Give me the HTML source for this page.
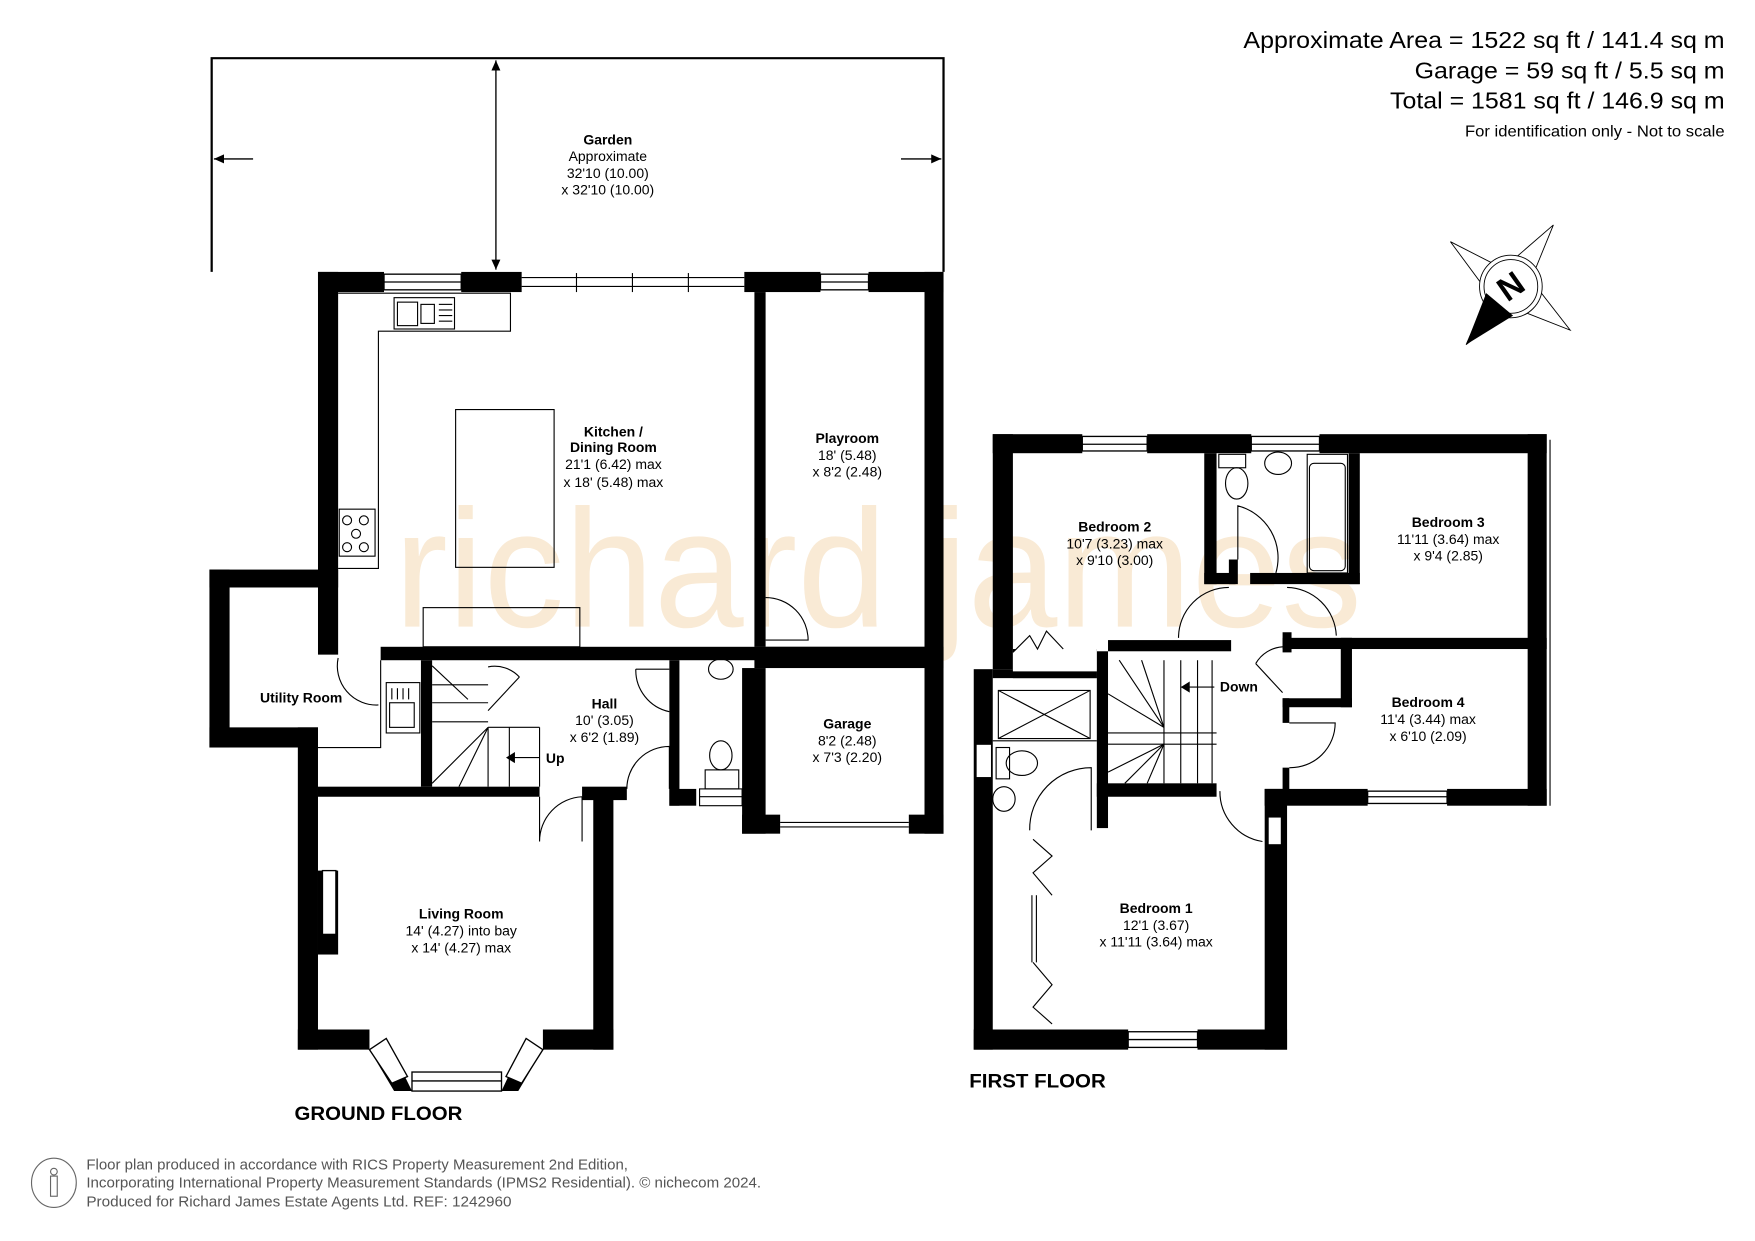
<!DOCTYPE html>
<html><head><meta charset="utf-8"><style>html,body{margin:0;padding:0;background:#fff}svg{display:block}</style></head><body>
<svg width="1755" height="1241" viewBox="0 0 1568 1109" xmlns="http://www.w3.org/2000/svg" font-family="Liberation Sans, Arial, sans-serif">
<rect width="1568" height="1109" fill="#fff"/>
<!-- watermark -->
<text x="352" y="560" font-size="150" fill="#f9ead5" textLength="865" lengthAdjust="spacingAndGlyphs" font-weight="normal">richard james</text>

<!-- garden -->
<g stroke="#000" stroke-width="2" fill="none">
<polyline points="189,243 189,52 843,52 843,243"/>
<line x1="443" y1="54" x2="443" y2="241" stroke-width="1.2"/>
<line x1="191" y1="142" x2="226" y2="142" stroke-width="1.2"/>
<line x1="805" y1="142" x2="841" y2="142" stroke-width="1.2"/>
</g>
<g fill="#000">
<polygon points="443,54 439,63 447,63"/><polygon points="443,241 439,232 447,232"/>
<polygon points="191,142 200,138 200,146"/><polygon points="841,142 832,138 832,146"/>
</g>

<!-- ground floor walls -->
<g fill="#000">
<rect x="284" y="243" width="59" height="18"/>
<rect x="412" y="243" width="54" height="18"/>
<rect x="665" y="243" width="68" height="18"/>
<rect x="776" y="243" width="67" height="18"/>
<rect x="284" y="243" width="18" height="342"/>
<rect x="826" y="243" width="17" height="502"/>
<rect x="674" y="261" width="10" height="317"/>
<rect x="340" y="578" width="503" height="12"/>
<rect x="674" y="578" width="169" height="19"/>
<rect x="187" y="509" width="115" height="16"/>
<rect x="187" y="509" width="18" height="159"/>
<rect x="187" y="650" width="97" height="18"/>
<rect x="266" y="650" width="18" height="288"/>
<rect x="266" y="920" width="64" height="18"/>
<rect x="485" y="920" width="63" height="18"/>
<rect x="530" y="705" width="18" height="233"/>
<rect x="284" y="703" width="198" height="9"/>
<rect x="520" y="703" width="40" height="12"/>
<rect x="376" y="590" width="10" height="113"/>
<rect x="598" y="590" width="9" height="130"/>
<rect x="598" y="705" width="24" height="15"/>
<rect x="663" y="597" width="21" height="148"/>
<rect x="663" y="728" width="34" height="17"/>
<rect x="812" y="728" width="31" height="17"/>
<rect x="284" y="778" width="18" height="75" fill="#000"/>
<polygon points="330,938 345,928 368,975 352,975"/>
<polygon points="485,938 470,928 448,975 463,975"/>
</g>
<g stroke="#000" stroke-width="1.2" fill="#fff">
<rect x="343" y="245" width="69" height="14"/><line x1="343" y1="252" x2="412" y2="252"/>
<rect x="733" y="245" width="43" height="14"/><line x1="733" y1="252" x2="776" y2="252"/>
<rect x="288" y="778" width="12" height="57"/>
<rect x="368" y="958" width="80" height="17"/><line x1="368" y1="966" x2="448" y2="966"/>
<polygon points="330,938 345,928 364,962 350,968"/>
<polygon points="485,938 470,928 452,962 466,968"/>
</g>
<g stroke="#000" stroke-width="1" fill="none">
<line x1="466" y1="248" x2="665" y2="248"/><line x1="466" y1="256" x2="665" y2="256"/>
<line x1="515" y1="244" x2="515" y2="261"/><line x1="565" y1="244" x2="565" y2="261"/><line x1="615" y1="244" x2="615" y2="261"/>
<polyline points="302,262 456,262 456,296 338,296 338,508 302,508"/>
<rect x="352" y="266" width="54" height="28"/><rect x="355" y="270" width="18" height="21"/><rect x="376" y="272" width="12" height="17"/>
<line x1="392" y1="272" x2="404" y2="272"/><line x1="392" y1="277" x2="404" y2="277"/><line x1="392" y1="282" x2="404" y2="282"/><line x1="392" y1="287" x2="404" y2="287"/>
<rect x="303" y="455" width="32" height="42"/>
<circle cx="310" cy="465" r="4"/><circle cx="325" cy="465" r="4"/><circle cx="318" cy="477" r="4"/><circle cx="310" cy="489" r="4"/><circle cx="325" cy="489" r="4"/>
<rect x="407" y="366" width="88" height="141"/>
<rect x="378" y="543" width="140" height="35"/>
<path d="M684,572 L722,572 A38,38 0 0 0 684,534"/>
<path d="M302,588 A35,35 0 0 0 338,630"/>
<polyline points="284,668 340,668 340,590"/>
<rect x="345" y="610" width="30" height="45"/><rect x="348" y="628" width="22" height="22"/>
<line x1="350" y1="615" x2="350" y2="625"/><line x1="355" y1="615" x2="355" y2="625"/><line x1="360" y1="615" x2="360" y2="625"/><line x1="365" y1="615" x2="365" y2="625"/>
<line x1="386" y1="612" x2="436" y2="612"/><line x1="386" y1="628" x2="436" y2="628"/><line x1="386" y1="645" x2="436" y2="645"/>
<line x1="436" y1="650" x2="386" y2="700"/><line x1="436" y1="650" x2="410" y2="703"/>
<line x1="436" y1="650" x2="482" y2="650"/><line x1="436" y1="650" x2="436" y2="703"/><line x1="455" y1="650" x2="455" y2="703"/><line x1="482" y1="650" x2="482" y2="703"/>
<line x1="386" y1="595" x2="418" y2="625"/><line x1="436" y1="635" x2="464" y2="605"/>
<path d="M436,596 A30,30 0 0 1 464,605"/>
<line x1="455" y1="677" x2="482" y2="677"/>
<path d="M482,712 L482,752 M520,712 A40,40 0 0 0 482,752 M520,712 L520,752"/>
<path d="M560,705 A38,38 0 0 1 598,667 L598,705"/>
<path d="M568,598 L598,598 M568,598 A38,38 0 0 0 598,636"/>
<ellipse cx="644" cy="598" rx="11" ry="9"/>
<ellipse cx="644" cy="675" rx="10" ry="13"/><rect x="630" y="688" width="30" height="17"/>
<rect x="625" y="705" width="38" height="15"/><line x1="625" y1="712" x2="663" y2="712"/>
<line x1="697" y1="735" x2="812" y2="735"/><line x1="697" y1="739" x2="812" y2="739"/>
</g>
<polygon points="452,677 460,672 460,682" fill="#000"/>

<!-- first floor walls -->
<g fill="#000">
<rect x="887" y="388" width="80" height="17"/>
<rect x="1025" y="388" width="93" height="17"/>
<rect x="1179" y="388" width="203" height="17"/>
<rect x="887" y="388" width="18" height="210"/>
<rect x="870" y="598" width="17" height="340"/>
<rect x="870" y="920" width="138" height="18"/>
<rect x="1070" y="920" width="80" height="18"/>
<rect x="1130" y="705" width="20" height="233" fill="#000"/>
<rect x="1130" y="705" width="92" height="15"/>
<rect x="1293" y="705" width="89" height="15"/>
<rect x="1365" y="388" width="17" height="332"/>
<rect x="1076" y="405" width="11" height="117"/>
<rect x="1205" y="405" width="10" height="117"/>
<rect x="1076" y="512" width="28" height="10"/>
<rect x="1117" y="512" width="98" height="10"/>
<rect x="1098" y="500" width="8" height="22"/>
<rect x="1146" y="570" width="236" height="10"/>
<rect x="1198" y="570" width="10" height="62"/>
<rect x="1146" y="624" width="62" height="8"/>
<rect x="1146" y="565" width="8" height="18"/>
<rect x="1146" y="624" width="6" height="22"/>
<rect x="1146" y="686" width="6" height="20"/>
<rect x="990" y="572" width="110" height="10"/>
<rect x="905" y="580" width="75" height="26"/>
<rect x="887" y="598" width="93" height="8"/>
<rect x="980" y="582" width="10" height="158"/>
<rect x="980" y="700" width="107" height="12"/>
</g>
<g stroke="#000" stroke-width="1.2" fill="#fff">
<rect x="967" y="390" width="58" height="13"/><line x1="967" y1="397" x2="1025" y2="397"/>
<rect x="1118" y="390" width="61" height="13"/><line x1="1118" y1="397" x2="1179" y2="397"/>
<rect x="1222" y="707" width="71" height="11"/><line x1="1222" y1="712" x2="1293" y2="712"/>
<rect x="1008" y="922" width="62" height="14"/><line x1="1008" y1="929" x2="1070" y2="929"/>
<rect x="1133" y="730" width="12" height="25"/>
<rect x="872" y="665" width="14" height="30"/>
<polygon points="905,583 920,570 927,580 935,564 945,580 980,580 980,600 905,600" stroke="none"/>
</g>
<g stroke="#000" stroke-width="1" fill="none">
<line x1="1385" y1="393" x2="1385" y2="720"/><line x1="1133" y1="760" x2="1133" y2="915"/>
<rect x="1089" y="406" width="24" height="12"/><ellipse cx="1105" cy="432" rx="10" ry="14"/>
<ellipse cx="1142" cy="414" rx="12" ry="10"/>
<rect x="1168" y="406" width="36" height="106"/><rect x="1170" y="414" width="32" height="96" rx="4"/>
<path d="M1106,500 L1106,452 A48,48 0 0 1 1140,512"/>
<path d="M1053,570 A45,45 0 0 1 1098,525"/>
<path d="M1150,525 A45,45 0 0 1 1194,568"/>
<polyline points="905,583 920,568 927,580 935,564 950,580"/>
<path d="M1122,593 L1146,619 M1122,593 A30,30 0 0 1 1146,578"/>
<path d="M1152,646 L1193,646 A40,40 0 0 1 1152,686"/>
<line x1="990" y1="655" x2="1087" y2="655"/><line x1="990" y1="665" x2="1087" y2="665"/>
<line x1="1040" y1="590" x2="1040" y2="700"/><line x1="1055" y1="590" x2="1055" y2="700"/><line x1="1070" y1="590" x2="1070" y2="700"/><line x1="1083" y1="590" x2="1083" y2="700"/>
<line x1="1040" y1="650" x2="990" y2="620"/><line x1="1040" y1="650" x2="1000" y2="590"/><line x1="1040" y1="650" x2="1020" y2="590"/>
<line x1="1040" y1="665" x2="990" y2="690"/><line x1="1040" y1="665" x2="1005" y2="700"/><line x1="1040" y1="665" x2="1025" y2="700"/>
<line x1="1055" y1="614" x2="1085" y2="614"/>
<rect x="892" y="617" width="82" height="43"/><line x1="892" y1="617" x2="974" y2="660"/><line x1="892" y1="660" x2="974" y2="617"/>
<line x1="887" y1="662" x2="980" y2="662"/>
<ellipse cx="913" cy="682" rx="14" ry="11"/><rect x="890" y="668" width="12" height="28"/>
<ellipse cx="897" cy="714" rx="10" ry="11"/>
<path d="M975,742 L975,686 A55,55 0 0 0 920,742"/>
<path d="M1090,707 A45,45 0 0 0 1128,752"/>
<polyline points="923,750 940,765 923,780 940,800"/><polyline points="923,860 940,880 923,900 940,915"/>
<line x1="922" y1="800" x2="922" y2="860"/><line x1="926" y1="800" x2="926" y2="860"/>
</g>
<polygon points="1055,614 1063,609 1063,619" fill="#000"/>

<!-- compass -->
<g stroke="#000" stroke-width="0.8" fill="#fff">
<polygon points="1296,216 1343,240 1388,201 1368,250 1403,295 1352,275 1310,308 1330,262"/>
<circle cx="1350" cy="256" r="28"/><circle cx="1350" cy="256" r="24"/>
</g>
<polygon points="1310,308 1328,262 1352,282" fill="#000"/>
<text x="1350" y="266" font-size="30" font-weight="bold" text-anchor="middle" transform="rotate(-35 1350 256)">N</text>

<!-- labels -->
<g font-size="12.5" text-anchor="middle" fill="#000">
<text x="543" y="129" font-weight="bold">Garden</text><text x="543" y="144">Approximate</text><text x="543" y="159">32'10 (10.00)</text><text x="543" y="174">x 32'10 (10.00)</text>
<text x="548" y="390" font-weight="bold">Kitchen /</text><text x="548" y="404" font-weight="bold">Dining Room</text><text x="548" y="419">21'1 (6.42) max</text><text x="548" y="435">x 18' (5.48) max</text>
<text x="757" y="396" font-weight="bold">Playroom</text><text x="757" y="411">18' (5.48)</text><text x="757" y="426">x 8'2 (2.48)</text>
<text x="269" y="628" font-weight="bold">Utility Room</text>
<text x="540" y="633" font-weight="bold">Hall</text><text x="540" y="648">10' (3.05)</text><text x="540" y="663">x 6'2 (1.89)</text>
<text x="496" y="682" font-weight="bold">Up</text>
<text x="757" y="651" font-weight="bold">Garage</text><text x="757" y="666">8'2 (2.48)</text><text x="757" y="681">x 7'3 (2.20)</text>
<text x="412" y="821" font-weight="bold">Living Room</text><text x="412" y="836">14' (4.27) into bay</text><text x="412" y="851">x 14' (4.27) max</text>
<text x="996" y="475" font-weight="bold">Bedroom 2</text><text x="996" y="490">10'7 (3.23) max</text><text x="996" y="505">x 9'10 (3.00)</text>
<text x="1294" y="471" font-weight="bold">Bedroom 3</text><text x="1294" y="486">11'11 (3.64) max</text><text x="1294" y="501">x 9'4 (2.85)</text>
<text x="1107" y="618" font-weight="bold">Down</text>
<text x="1276" y="632" font-weight="bold">Bedroom 4</text><text x="1276" y="647">11'4 (3.44) max</text><text x="1276" y="662">x 6'10 (2.09)</text>
<text x="1033" y="816" font-weight="bold">Bedroom 1</text><text x="1033" y="831">12'1 (3.67)</text><text x="1033" y="846">x 11'11 (3.64) max</text>
</g>
<text x="263" y="1001" font-size="17" font-weight="bold" textLength="150" lengthAdjust="spacingAndGlyphs">GROUND FLOOR</text>
<text x="866" y="972" font-size="17" font-weight="bold" textLength="122" lengthAdjust="spacingAndGlyphs">FIRST FLOOR</text>
<g font-size="21" fill="#000">
<text x="1111" y="43" textLength="430" lengthAdjust="spacingAndGlyphs">Approximate Area = 1522 sq ft / 141.4 sq m</text>
<text x="1264" y="70" textLength="277" lengthAdjust="spacingAndGlyphs">Garage = 59 sq ft / 5.5 sq m</text>
<text x="1242" y="97" textLength="299" lengthAdjust="spacingAndGlyphs">Total = 1581 sq ft / 146.9 sq m</text>
<text x="1309" y="122" font-size="14" textLength="232" lengthAdjust="spacingAndGlyphs">For identification only - Not to scale</text>
</g>
<g fill="#555" font-size="13">
<text x="77" y="1045" textLength="484" lengthAdjust="spacingAndGlyphs">Floor plan produced in accordance with RICS Property Measurement 2nd Edition,</text>
<text x="77" y="1061" textLength="603" lengthAdjust="spacingAndGlyphs">Incorporating International Property Measurement Standards (IPMS2 Residential).   © nichecom 2024.</text>
<text x="77" y="1078" textLength="380" lengthAdjust="spacingAndGlyphs">Produced for Richard James Estate Agents Ltd.   REF: 1242960</text>
</g>
<ellipse cx="48" cy="1057" rx="20" ry="22" fill="none" stroke="#666" stroke-width="1"/>
<circle cx="48" cy="1047" r="3" fill="none" stroke="#666"/><rect x="45" y="1051" width="6" height="18" fill="none" stroke="#666"/>
</svg>
</body></html>
